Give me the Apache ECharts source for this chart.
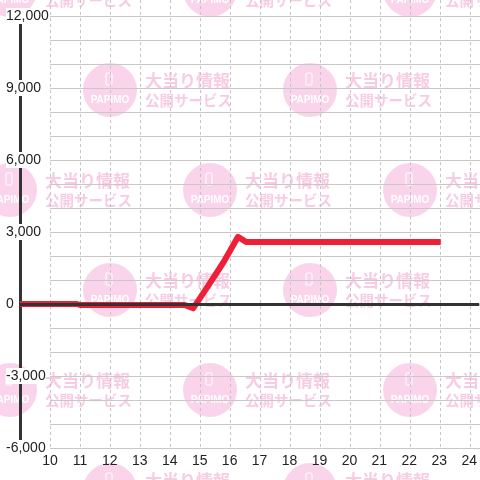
<!DOCTYPE html>
<html>
<head>
<meta charset="utf-8">
<script src="https://cdn.jsdelivr.net/npm/echarts@6/dist/echarts.min.js"></script>
<style>
  html, body { margin: 0; padding: 0; background: #fff; }
  #chart { width: 480px; height: 480px; }
</style>
</head>
<body>
<div id="chart"></div>
<script>
// 差枚推移
const pointX = [9, 10.9, 11.0, 14.5, 14.78, 15.2, 15.8, 16.28, 16.55, 23.05];
const pointY = [0, 0, -40, -40, -180, 600, 1750, 2800, 2580, 2580];
const xLabels = [10, 11, 12, 13, 14, 15, 16, 17, 18, 19, 20, 21, 22, 23, 24];
const yLabels = [-6000, -3000, 0, 3000, 6000, 9000, 12000];

const chart = echarts.init(document.getElementById('chart'));

// 透かし (PAPIMO)
const PINK = 'rgba(240,120,190,0.32)';
const PINK_TEXT = 'rgba(236,110,180,0.36)';
const marks = [];
for (let r = -1; r <= 5; r++) {
  const cy = -10 + r * 100;
  const cols = (r % 2 === 0) ? [10, 210, 410] : [110, 310];
  cols.forEach(cx => {
    marks.push(
      { type: 'circle', shape: { cx: cx, cy: cy, r: 27 }, style: { fill: PINK } },
      { type: 'rect', shape: { x: cx - 4, y: cy - 17, width: 6, height: 12, r: 1 },
        style: { fill: 'none', stroke: '#fff', lineWidth: 1 } },
      { type: 'text', style: { text: 'PAPIMO', x: cx, y: cy + 10, fill: '#fff',
        font: 'bold 10px "Liberation Sans", Arial', textAlign: 'center', textVerticalAlign: 'middle' } },
      { type: 'text', style: { text: '大当り情報', x: cx + 35, y: cy - 9, fill: PINK_TEXT,
        font: 'bold 17px "Noto Sans CJK JP"', textAlign: 'left', textVerticalAlign: 'middle' } },
      { type: 'text', style: { text: '公開サービス', x: cx + 35, y: cy + 10, fill: PINK_TEXT,
        font: 'bold 14.5px "Noto Sans CJK JP"', textAlign: 'left', textVerticalAlign: 'middle' } }
    );
  });
}

chart.setOption({
  animation: false,
  backgroundColor: '#fff',
  textStyle: { fontFamily: '"Liberation Sans", Arial, sans-serif' },
  graphic: [{ type: 'group', z: -10, children: marks }],
  grid: [
    { left: 20, right: 0, top: 16, bottom: 32 },
    { left: 50, right: 0, top: 0, bottom: 32 }
  ],
  xAxis: [
    {
      gridIndex: 0, type: 'value', min: 9, max: 9 + 460 / 30, interval: 1,
      axisLine: { show: false }, axisTick: { show: false }, splitLine: { show: false },
      axisLabel: {
        color: '#222', fontSize: 14, margin: 6,
        showMinLabel: false, showMaxLabel: false,
        formatter: v => xLabels.includes(v) ? String(v) : ''
      }
    },
    {
      gridIndex: 1, type: 'value', min: 10, max: 10 + 430 / 30, interval: 1,
      axisLine: { show: false }, axisTick: { show: false }, axisLabel: { show: false },
      splitLine: { show: true, showMaxLine: false, lineStyle: { color: '#c4c4c4', type: [3, 3], width: 1 } }
    }
  ],
  yAxis: [
    {
      gridIndex: 0, type: 'value', min: -6000, max: 12000, interval: 3000,
      axisLine: { show: true, lineStyle: { color: '#333', width: 3 } },
      axisTick: { show: false }, splitLine: { show: false },
      axisLabel: {
        color: '#222', fontSize: 14, margin: 14, align: 'left',
        backgroundColor: '#fff', padding: [1, 0],
        formatter: v => yLabels.includes(v) ? v.toLocaleString('en-US') : ''
      }
    },
    {
      gridIndex: 1, type: 'value', min: -6000, max: 12000 + 16 * 1000 / 24, interval: 1000,
      axisLine: { show: false }, axisTick: { show: false }, axisLabel: { show: false },
      splitLine: { show: true, showMaxLine: false, lineStyle: { color: '#c8c8c8', width: 1 } }
    }
  ],
  series: [
    {
      type: 'line', xAxisIndex: 0, yAxisIndex: 0, data: [], z: 2, silent: true,
      markLine: {
        silent: true, symbol: ['none', 'none'], label: { show: false },
        lineStyle: { color: '#333', width: 3, type: 'solid' },
        data: [{ yAxis: 0 }]
      }
    },
    {
      type: 'line', xAxisIndex: 0, yAxisIndex: 0, z: 3,
      data: pointX.map((x, i) => [x, pointY[i]]),
      showSymbol: false, smooth: false,
      lineStyle: { color: '#ee2038', width: 6, join: 'round', cap: 'butt' }
    }
  ]
});
</script>
</body>
</html>
